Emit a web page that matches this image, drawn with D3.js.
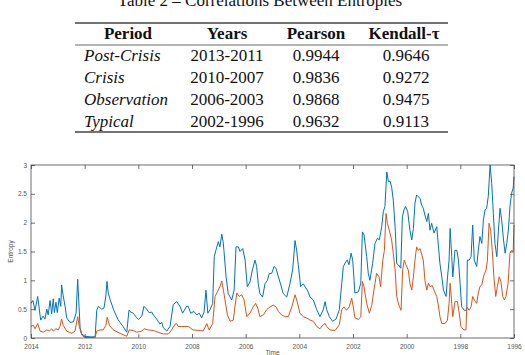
<!DOCTYPE html>
<html>
<head>
<meta charset="utf-8">
<script src="https://cdn.jsdelivr.net/npm/d3@7"></script>
<style>
  body { margin: 0; background: #fff; }
  svg { display: block; }
</style>
</head>
<body>
<script>
const [w, h] = [525, 355];

// table contents
const tableTitle = 'Table 2 – Correlations Between Entropies';
const headers = ['Period', 'Years', 'Pearson', 'Kendall-τ'];
const periods = ['Post-Crisis', 'Crisis', 'Observation', 'Typical'];
const yearRanges = ['2013-2011', '2010-2007', '2006-2003', '2002-1996'];
const pearson = ['0.9944', '0.9836', '0.9868', '0.9632'];
const kendall = ['0.9646', '0.9272', '0.9475', '0.9113'];

// chart axes
const xTicks = [2014, 2012, 2010, 2008, 2006, 2004, 2002, 2000, 1998, 1996];
const yTicks = [0, 0.5, 1, 1.5, 2, 2.5, 3];

// entropy series, [year, value]
const blueSeries = [
  [2014.00, 0.60], [2013.93, 0.65], [2013.85, 0.48], [2013.75, 0.72], [2013.64, 0.31], [2013.55, 0.38],
  [2013.48, 0.33], [2013.41, 0.50], [2013.36, 0.40], [2013.29, 0.65], [2013.23, 0.42], [2013.17, 0.68],
  [2013.13, 0.44], [2013.07, 0.62], [2013.02, 0.44], [2012.95, 0.69], [2012.89, 0.55], [2012.86, 0.92],
  [2012.80, 0.73], [2012.73, 0.55], [2012.67, 0.35], [2012.55, 0.27], [2012.42, 0.28], [2012.32, 0.43],
  [2012.26, 1.02], [2012.21, 0.55], [2012.17, 0.18], [2012.11, 0.07], [2011.99, 0.03], [2011.80, 0.02],
  [2011.61, 0.02], [2011.55, 0.48], [2011.49, 0.55], [2011.37, 0.50], [2011.28, 0.52], [2011.21, 0.73],
  [2011.17, 0.98], [2011.12, 0.78], [2011.06, 0.68], [2010.93, 0.50], [2010.76, 0.32], [2010.57, 0.20],
  [2010.43, 0.10], [2010.35, 0.48], [2010.28, 0.45], [2010.19, 0.43], [2010.06, 0.35], [2010.00, 0.32],
  [2009.87, 0.38], [2009.79, 0.55], [2009.69, 0.50], [2009.60, 0.44], [2009.50, 0.45], [2009.44, 0.40],
  [2009.32, 0.33], [2009.19, 0.24], [2009.13, 0.27], [2009.07, 0.18], [2008.94, 0.12], [2008.82, 0.20],
  [2008.70, 0.58], [2008.57, 0.63], [2008.45, 0.55], [2008.35, 0.43], [2008.20, 0.55], [2008.14, 0.55],
  [2008.05, 0.43], [2007.93, 0.46], [2007.82, 0.40], [2007.73, 0.43], [2007.64, 0.35], [2007.55, 0.45],
  [2007.48, 0.83], [2007.41, 0.43], [2007.33, 0.49], [2007.23, 0.60], [2007.17, 1.41], [2007.11, 1.52],
  [2007.02, 1.67], [2006.96, 1.58], [2006.89, 1.80], [2006.84, 1.67], [2006.81, 1.52], [2006.73, 1.06],
  [2006.65, 0.77], [2006.52, 0.66], [2006.43, 0.83], [2006.36, 1.58], [2006.27, 1.58], [2006.21, 1.50],
  [2006.11, 1.55], [2006.02, 1.35], [2005.94, 0.89], [2005.84, 0.97], [2005.75, 1.18], [2005.65, 1.35],
  [2005.59, 1.24], [2005.53, 0.94], [2005.47, 0.77], [2005.37, 0.71], [2005.28, 0.94], [2005.19, 1.00],
  [2005.12, 1.12], [2005.03, 1.12], [2004.94, 1.24], [2004.87, 1.21], [2004.78, 1.06], [2004.69, 0.92],
  [2004.60, 0.77], [2004.47, 0.71], [2004.35, 0.94], [2004.25, 1.18], [2004.16, 1.69], [2004.10, 1.52],
  [2004.04, 1.27], [2003.95, 0.89], [2003.85, 0.94], [2003.79, 0.89], [2003.70, 0.83], [2003.60, 0.71],
  [2003.48, 0.66], [2003.35, 0.49], [2003.23, 0.37], [2003.11, 0.49], [2003.04, 0.63], [2002.98, 0.49],
  [2002.88, 0.37], [2002.76, 0.29], [2002.63, 0.33], [2002.51, 0.49], [2002.42, 0.94], [2002.36, 1.24],
  [2002.26, 1.33], [2002.21, 1.35], [2002.15, 1.27], [2002.07, 1.47], [2002.01, 1.35], [2001.96, 1.00],
  [2001.93, 0.78], [2001.80, 0.80], [2001.71, 0.95], [2001.65, 1.84], [2001.59, 1.79], [2001.55, 1.64],
  [2001.49, 1.41], [2001.43, 1.12], [2001.37, 1.00], [2001.27, 1.29], [2001.18, 1.64], [2001.09, 1.73],
  [2001.02, 1.70], [2000.93, 1.93], [2000.87, 2.19], [2000.81, 2.28], [2000.74, 2.88], [2000.68, 2.71],
  [2000.62, 2.72], [2000.56, 2.62], [2000.50, 2.39], [2000.43, 1.93], [2000.37, 1.29], [2000.31, 1.27],
  [2000.22, 1.21], [2000.16, 2.10], [2000.10, 2.22], [2000.04, 2.28], [1999.96, 2.19], [1999.88, 1.87],
  [1999.81, 1.70], [1999.75, 1.90], [1999.69, 2.34], [1999.63, 2.48], [1999.57, 2.45], [1999.50, 2.42],
  [1999.44, 2.30], [1999.38, 2.25], [1999.32, 2.13], [1999.25, 2.02], [1999.19, 2.16], [1999.13, 1.87],
  [1999.07, 1.99], [1998.98, 1.82], [1998.88, 1.93], [1998.82, 1.61], [1998.76, 1.29], [1998.69, 1.06],
  [1998.63, 0.83], [1998.53, 0.72], [1998.48, 1.04], [1998.42, 1.35], [1998.38, 1.90], [1998.32, 1.41],
  [1998.28, 1.06], [1998.20, 1.52], [1998.13, 1.52], [1998.07, 1.35], [1998.01, 0.95], [1997.95, 0.54],
  [1997.85, 0.48], [1997.76, 0.48], [1997.74, 1.35], [1997.67, 1.35], [1997.60, 1.41], [1997.54, 1.96],
  [1997.48, 1.35], [1997.39, 1.24], [1997.33, 1.52], [1997.27, 1.76], [1997.20, 1.64], [1997.14, 2.05],
  [1997.08, 2.22], [1997.02, 2.25], [1996.96, 2.45], [1996.89, 3.00], [1996.83, 2.68], [1996.77, 2.16],
  [1996.71, 1.64], [1996.64, 1.41], [1996.58, 1.87], [1996.52, 2.25], [1996.46, 2.05], [1996.39, 1.70],
  [1996.33, 1.47], [1996.27, 1.64], [1996.21, 1.87], [1996.15, 2.28], [1996.09, 2.51], [1996.03, 2.60],
  [1996.00, 2.80]
];

const orangeSeries = [
  [2014.00, 0.20], [2013.91, 0.22], [2013.85, 0.16], [2013.75, 0.25], [2013.66, 0.12], [2013.54, 0.10],
  [2013.41, 0.14], [2013.32, 0.12], [2013.23, 0.16], [2013.17, 0.12], [2013.07, 0.16], [2012.98, 0.14],
  [2012.92, 0.20], [2012.86, 0.33], [2012.80, 0.22], [2012.67, 0.12], [2012.48, 0.08], [2012.36, 0.12],
  [2012.26, 0.37], [2012.20, 0.20], [2012.11, 0.05], [2011.99, 0.01], [2011.61, 0.01], [2011.55, 0.12],
  [2011.43, 0.14], [2011.31, 0.14], [2011.21, 0.22], [2011.16, 0.36], [2011.08, 0.22], [2010.93, 0.14],
  [2010.68, 0.08], [2010.43, 0.03], [2010.34, 0.14], [2010.19, 0.13], [2010.06, 0.10], [2009.87, 0.12],
  [2009.79, 0.16], [2009.63, 0.14], [2009.44, 0.13], [2009.26, 0.10], [2009.07, 0.07], [2008.88, 0.07],
  [2008.76, 0.14], [2008.63, 0.24], [2008.57, 0.25], [2008.52, 0.20], [2008.38, 0.20], [2008.14, 0.20],
  [2007.96, 0.14], [2007.70, 0.13], [2007.58, 0.12], [2007.45, 0.25], [2007.36, 0.14], [2007.23, 0.25],
  [2007.14, 0.72], [2007.02, 0.83], [2006.96, 0.89], [2006.89, 0.99], [2006.83, 0.83], [2006.77, 0.66],
  [2006.68, 0.40], [2006.58, 0.29], [2006.46, 0.31], [2006.40, 0.54], [2006.33, 0.78], [2006.24, 0.72],
  [2006.15, 0.75], [2006.06, 0.66], [2005.96, 0.37], [2005.84, 0.43], [2005.72, 0.54], [2005.63, 0.60],
  [2005.55, 0.52], [2005.47, 0.37], [2005.34, 0.40], [2005.22, 0.49], [2005.09, 0.54], [2004.97, 0.57],
  [2004.87, 0.54], [2004.78, 0.46], [2004.66, 0.40], [2004.53, 0.37], [2004.41, 0.37], [2004.28, 0.54],
  [2004.16, 0.75], [2004.08, 0.63], [2003.98, 0.43], [2003.85, 0.37], [2003.73, 0.35], [2003.60, 0.31],
  [2003.48, 0.29], [2003.35, 0.20], [2003.23, 0.16], [2003.11, 0.23], [2003.04, 0.25], [2002.98, 0.20],
  [2002.86, 0.14], [2002.67, 0.13], [2002.51, 0.23], [2002.42, 0.49], [2002.34, 0.54], [2002.24, 0.48],
  [2002.14, 0.54], [2002.05, 0.69], [2001.99, 0.54], [2001.93, 0.35], [2001.80, 0.32], [2001.71, 0.37],
  [2001.65, 0.98], [2001.59, 0.89], [2001.49, 0.60], [2001.39, 0.43], [2001.30, 0.57], [2001.22, 0.83],
  [2001.12, 1.12], [2001.03, 1.06], [2000.97, 0.89], [2000.89, 1.35], [2000.83, 1.52], [2000.77, 2.16],
  [2000.72, 1.99], [2000.65, 1.87], [2000.56, 1.70], [2000.50, 1.47], [2000.43, 1.18], [2000.37, 0.72],
  [2000.29, 0.57], [2000.21, 0.48], [2000.15, 1.18], [2000.09, 1.35], [2000.03, 1.27], [1999.94, 1.18],
  [1999.88, 0.95], [1999.81, 0.83], [1999.75, 1.06], [1999.69, 1.35], [1999.63, 1.58], [1999.57, 1.52],
  [1999.50, 1.55], [1999.44, 1.45], [1999.38, 1.35], [1999.32, 1.00], [1999.25, 0.83], [1999.19, 0.95],
  [1999.13, 0.89], [1999.05, 0.91], [1998.98, 0.83], [1998.88, 0.72], [1998.82, 0.57], [1998.76, 0.37],
  [1998.69, 0.25], [1998.57, 0.25], [1998.48, 0.31], [1998.42, 0.60], [1998.38, 0.95], [1998.32, 0.60],
  [1998.28, 0.37], [1998.20, 0.63], [1998.11, 0.63], [1998.04, 0.43], [1997.98, 0.20], [1997.87, 0.14],
  [1997.79, 0.14], [1997.76, 0.54], [1997.67, 0.48], [1997.60, 0.54], [1997.54, 0.72], [1997.48, 0.66],
  [1997.39, 0.60], [1997.33, 0.78], [1997.27, 0.89], [1997.20, 0.92], [1997.14, 1.06], [1997.04, 1.18],
  [1996.99, 1.35], [1996.93, 1.99], [1996.87, 1.87], [1996.81, 1.52], [1996.75, 1.06], [1996.68, 0.72],
  [1996.62, 0.89], [1996.55, 1.06], [1996.49, 0.98], [1996.42, 0.72], [1996.36, 0.66], [1996.30, 0.72],
  [1996.22, 0.95], [1996.15, 1.47], [1996.09, 1.52], [1996.03, 1.50], [1996.00, 1.96]
];

const svg = d3.select('body').append('svg')
  .attr('width', w)
  .attr('height', h);

// ---- table ----
const serif = '"Liberation Serif", "Times New Roman", serif';
const colX = [128, 227, 316, 404];
const [tLeft, tRight] = [75, 448];
const headY = 38.5;
const rowY = d3.scaleLinear().domain([0, 1]).range([61, 83]);

svg.append('text')
  .attr('x', 260).attr('y', 6)
  .attr('text-anchor', 'middle')
  .attr('font-family', serif).attr('font-size', 17)
  .attr('fill', '#111')
  .text(tableTitle);

[[23, 1.3], [45, 0.8], [132, 1.3]].forEach(([y, sw]) => {
  svg.append('line')
    .attr('x1', tLeft).attr('x2', tRight)
    .attr('y1', y).attr('y2', y)
    .attr('stroke', '#444').attr('stroke-width', sw);
});

svg.selectAll('text.head')
  .data(headers)
  .enter()
  .append('text')
  .attr('class', 'head')
  .attr('x', (d, i) => colX[i])
  .attr('y', headY)
  .attr('text-anchor', 'middle')
  .attr('font-family', serif).attr('font-size', 17).attr('font-weight', 'bold')
  .attr('fill', '#111')
  .text(d => d);

const rows = svg.selectAll('g.row')
  .data(periods)
  .enter()
  .append('g')
  .attr('class', 'row')
  .attr('transform', (d, i) => `translate(0, ${rowY(i)})`)
  .attr('font-family', serif).attr('font-size', 17).attr('fill', '#111');

rows.append('text')
  .attr('x', 84)
  .attr('font-style', 'italic')
  .text(d => d);
rows.append('text')
  .attr('x', colX[1]).attr('text-anchor', 'middle')
  .text((d, i) => yearRanges[i]);
rows.append('text')
  .attr('x', colX[2]).attr('text-anchor', 'middle')
  .text((d, i) => pearson[i]);
rows.append('text')
  .attr('x', colX[3] + 2).attr('text-anchor', 'middle')
  .text((d, i) => kendall[i]);

// ---- chart ----
const [pl, pr, pt, pb] = [31, 514, 165, 338];
const x = d3.scaleLinear().domain([2014, 1996]).range([pl, pr]);
const y = d3.scaleLinear().domain([0, 3]).range([pb, pt]);
const sans = '"Liberation Sans", Arial, sans-serif';
const axisColor = '#4a4a4a';

const line = d3.line()
  .x(d => x(d[0]))
  .y(d => y(d[1]));

svg.append('path')
  .datum(blueSeries)
  .attr('d', line)
  .attr('fill', 'none')
  .attr('stroke', '#0072BD')
  .attr('stroke-width', 1)
  .attr('stroke-linejoin', 'round');

svg.append('path')
  .datum(orangeSeries)
  .attr('d', line)
  .attr('fill', 'none')
  .attr('stroke', '#D95319')
  .attr('stroke-width', 1)
  .attr('stroke-linejoin', 'round');

const styleAxis = (g) => {
  g.select('.domain').remove();
  g.selectAll('line').attr('stroke', axisColor).attr('stroke-width', 0.8);
  g.selectAll('text').attr('fill', '#555').attr('font-family', sans).attr('font-size', 6.5);
};

svg.append('g')
  .attr('transform', `translate(0, ${pb})`)
  .call(d3.axisBottom(x).tickValues(xTicks).tickFormat(d3.format('d')).tickSizeInner(-4).tickSizeOuter(0).tickPadding(6))
  .call(styleAxis);

svg.append('g')
  .attr('transform', `translate(0, ${pt})`)
  .call(d3.axisTop(x).tickValues(xTicks).tickFormat('').tickSizeInner(-4).tickSizeOuter(0))
  .call(styleAxis);

svg.append('g')
  .attr('transform', `translate(${pl}, 0)`)
  .call(d3.axisLeft(y).tickValues(yTicks).tickFormat(d3.format('')).tickSizeInner(-4).tickSizeOuter(0).tickPadding(4))
  .call(styleAxis);

svg.append('g')
  .attr('transform', `translate(${pr}, 0)`)
  .call(d3.axisRight(y).tickValues(yTicks).tickFormat('').tickSizeInner(-4).tickSizeOuter(0))
  .call(styleAxis);

svg.append('rect')
  .attr('x', pl).attr('y', pt)
  .attr('width', pr - pl).attr('height', pb - pt)
  .attr('fill', 'none')
  .attr('stroke', axisColor)
  .attr('stroke-width', 0.8);

svg.append('text')
  .attr('transform', `translate(13, ${(pt + pb) / 2}) rotate(-90)`)
  .attr('text-anchor', 'middle')
  .attr('font-family', sans).attr('font-size', 6.5).attr('fill', '#555')
  .text('Entropy');

svg.append('text')
  .attr('x', (pl + pr) / 2).attr('y', 355)
  .attr('text-anchor', 'middle')
  .attr('font-family', sans).attr('font-size', 6.5).attr('fill', '#555')
  .text('Time');
</script>
</body>
</html>
